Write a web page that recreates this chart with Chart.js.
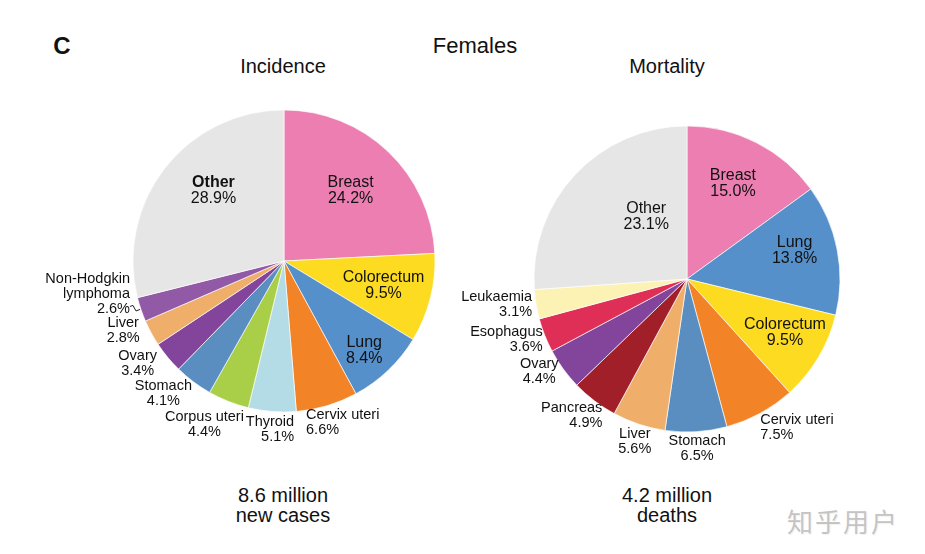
<!DOCTYPE html>
<html>
<head>
<meta charset="utf-8">
<script src="https://cdn.jsdelivr.net/npm/chart.js@4"></script>
<style>
  html, body { margin: 0; padding: 0; background: #fff; overflow: hidden; }
  body { width: 925px; height: 554px; position: relative; font-family: "Liberation Sans", Arial, sans-serif; color: #111; }
  canvas { position: absolute; }
  .txt { position: absolute; transform: translate(-50%, -50%); white-space: nowrap; text-align: center; }
</style>
</head>
<body>
<div class="txt" style="left:62px;top:46px;font-size:24px;font-weight:bold;">C</div>
<div class="txt" style="left:475px;top:46px;font-size:22px;">Females</div>
<div class="txt" style="left:283px;top:66px;font-size:20px;">Incidence</div>
<div class="txt" style="left:667px;top:66px;font-size:20px;">Mortality</div>
<div class="txt" style="left:283px;top:505px;font-size:20px;line-height:20px;">8.6 million<br>new cases</div>
<div class="txt" style="left:667px;top:505px;font-size:20px;line-height:20px;">4.2 million<br>deaths</div>
<div class="txt" style="left:843px;top:520px;font-size:26px;letter-spacing:2px;color:#c4c4c4;font-family:'Noto Sans CJK SC',sans-serif;text-shadow:0 0 2px #fff, 1px 1px 1px #eee;">知乎用户</div>

<canvas id="incidence" width="520" height="400" style="left:24px;top:61px;"></canvas>
<canvas id="mortality" width="480" height="400" style="left:447px;top:79px;"></canvas>

<script>
// Females, percentage share of cases and deaths by site
const incidenceSites = ['Breast', 'Colorectum', 'Lung', 'Cervix uteri', 'Thyroid', 'Corpus uteri', 'Stomach', 'Ovary', 'Liver', 'Non-Hodgkin lymphoma', 'Other'];
const incidenceShare = [24.2, 9.5, 8.4, 6.6, 5.1, 4.4, 4.1, 3.4, 2.8, 2.6, 28.9];

const mortalitySites = ['Breast', 'Lung', 'Colorectum', 'Cervix uteri', 'Stomach', 'Liver', 'Pancreas', 'Ovary', 'Esophagus', 'Leukaemia', 'Other'];
const mortalityPrinted = [15.0, 13.8, 9.5, 7.5, 6.5, 5.6, 4.9, 4.4, 3.6, 3.1, 23.1];
// in the figure the "Other" slice fills the rest of the circle (~94 deg)
const mortalityShare = [15.0, 13.8, 9.5, 7.5, 6.5, 5.6, 4.9, 4.4, 3.6, 3.1, 26.1];

const siteColors = {
    'Breast': '#ec7eb1', 'Colorectum': '#fcdb20', 'Lung': '#5690cb', 'Cervix uteri': '#f28326',
    'Thyroid': '#b3dce6', 'Corpus uteri': '#a9cf49', 'Stomach': '#5a8ec0', 'Ovary': '#83449b',
    'Liver': '#f0ae6b', 'Non-Hodgkin lymphoma': '#9159a6', 'Pancreas': '#a01f29',
    'Esophagus': '#df2f56', 'Leukaemia': '#fbf2b4', 'Other': '#e6e6e6'
};

// label placement: fraction of radius along the slice middle, nudge, alignment, inside/outside
const incidenceLayout = [
    { f: 0.64, dx: 0, dy: 0, align: 'center', inside: true },
    { f: 0.68, dx: 0, dy: -1, align: 'center', inside: true },
    { f: 0.79, dx: -2, dy: 3, align: 'center', inside: true },
    { f: 1, dx: -21, dy: 17, align: 'left' },
    { f: 1, dx: 22, dy: 17.5, align: 'right' },
    { f: 1, dx: -24, dy: 23, align: 'center' },
    { f: 1, dx: -30, dy: 12, align: 'center' },
    { f: 1, dx: -30, dy: 6, align: 'center' },
    { f: 1, dx: -28, dy: -2, align: 'center' },
    { f: 1, dx: -11, dy: -15, align: 'right', wrap: true, leader: true },
    { f: 0.66, dx: 8, dy: -9, align: 'center', inside: true, bold: true }
];
const mortalityLayout = [
    { f: 0.69, dx: -2, dy: -1, align: 'center', inside: true },
    { f: 0.73, dx: -2, dy: -7, align: 'center', inside: true },
    { f: 0.73, dx: 2, dy: -4, align: 'center', inside: true },
    { f: 1, dx: 0, dy: 14, align: 'left' },
    { f: 1, dx: 1, dy: 17, align: 'center' },
    { f: 1, dx: -4, dy: 17, align: 'center' },
    { f: 1, dx: 8, dy: 15, align: 'right' },
    { f: 1, dx: -24, dy: 3, align: 'center' },
    { f: 1, dx: -2, dy: 4, align: 'right' },
    { f: 1, dx: -4, dy: 0, align: 'right' },
    { f: 0.49, dx: 14, dy: -11, align: 'center', inside: true }
];

const sliceLabels = {
    id: 'sliceLabels',
    afterDatasetsDraw(chart, args, opts) {
        const ctx = chart.ctx;
        const arcs = chart.getDatasetMeta(0).data;
        ctx.save();
        ctx.fillStyle = '#111';
        ctx.textBaseline = 'middle';
        arcs.forEach((arc, i) => {
            const { x, y, startAngle, endAngle, outerRadius } = arc.getProps(['x', 'y', 'startAngle', 'endAngle', 'outerRadius'], true);
            const lay = opts.layout[i];
            const mid = (startAngle + endAngle) / 2;
            const rx = x + Math.cos(mid) * outerRadius * lay.f;
            const ry = y + Math.sin(mid) * outerRadius * lay.f;
            const ax = rx + lay.dx, ay = ry + lay.dy;
            const name = opts.names[i];
            const lines = (lay.wrap ? name.split(' ') : [name]).concat([opts.pcts[i].toFixed(1) + '%']);
            const size = lay.inside ? 16 : 14.5;
            const lh = lay.inside ? 16 : 15;
            ctx.textAlign = lay.align;
            lines.forEach((t, k) => {
                const bold = lay.bold && k === 0;
                ctx.font = (bold ? 'bold ' : '') + size + 'px "Liberation Sans", Arial, sans-serif';
                ctx.fillText(t, ax, ay + (k - (lines.length - 1) / 2) * lh);
            });
            if (lay.leader) {
                ctx.strokeStyle = '#222';
                ctx.lineWidth = 1;
                ctx.beginPath();
                ctx.moveTo(rx - 1, ry);
                ctx.lineTo(rx - 5, ry + 1.5);
                ctx.lineTo(rx - 8, ry - 4);
                ctx.lineTo(rx - 11, ry - 3);
                ctx.stroke();
            }
        });
        ctx.restore();
    }
};

function drawPie(id, sites, share, pcts, layout) {
    new Chart(document.getElementById(id), {
        type: 'pie',
        data: {
            labels: sites,
            datasets: [{
                data: share,
                backgroundColor: sites.map(s => siteColors[s]),
                borderColor: 'rgba(255,255,255,0.65)',
                borderWidth: 1
            }]
        },
        options: {
            responsive: false,
            animation: false,
            radius: id === 'incidence' ? 151 : 153,
            layout: { padding: 0 },
            plugins: {
                legend: { display: false },
                tooltip: { enabled: false },
                sliceLabels: { names: sites, pcts: pcts, layout: layout }
            }
        },
        plugins: [sliceLabels]
    });
}

drawPie('incidence', incidenceSites, incidenceShare, incidenceShare, incidenceLayout);
drawPie('mortality', mortalitySites, mortalityShare, mortalityPrinted, mortalityLayout);
</script>
</body>
</html>
